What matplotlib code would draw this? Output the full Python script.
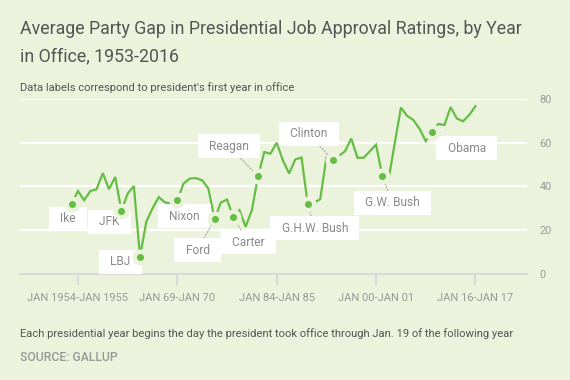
import matplotlib
matplotlib.use("Agg")
import matplotlib.pyplot as plt

# party gap by presidential year, 1953 (Ike yr 1) .. 2016 (Obama yr 8)
gap = [32.0, 37.8, 33.6, 37.8, 38.6, 46.0, 38.6, 44.2,   # Eisenhower
       28.7, 36.6, 40.1,                                 # Kennedy
       7.7, 23.7, 29.8, 35.0, 32.6, 32.0,                # Johnson
       33.6, 41.2, 43.5, 43.7, 42.7, 38.9,               # Nixon
       24.9, 32.5, 33.9,                                 # Ford
       25.9, 29.0, 21.4, 29.0,                           # Carter
       44.5, 55.6, 54.9, 59.9, 51.8, 45.8, 52.3, 53.1,   # Reagan
       31.7, 32.5, 34.0, 53.0,                           # Bush
       52.0, 53.8, 56.0, 61.8, 53.0, 53.0, 56.0, 59.0,   # Clinton
       44.7, 43.0, 59.5, 76.0, 72.2, 70.3, 66.3, 60.6,   # Bush
       64.7, 68.5, 68.0, 76.2, 71.0, 69.7, 72.6, 76.6]   # Obama

presidents = ["Ike", "JFK", "LBJ", "Nixon", "Ford", "Carter", "Reagan",
              "G.H.W. Bush", "Clinton", "G.W. Bush", "Obama"]
first_year = [0, 8, 11, 17, 23, 26, 30, 38, 42, 50, 58]

tick_pos = [1, 17, 33, 49, 65]
tick_labels = ["JAN 1954-JAN 1955", "JAN 69-JAN 70", "JAN 84-JAN 85",
               "JAN 00-JAN 01", "JAN 16-JAN 17"]

# label offsets from the dot in pixels (dx right, dy up), and whether a leader line is drawn
label_off = {"Ike": (-4, -15, False), "JFK": (-12, -11, False),
             "LBJ": (-20, -5, False), "Nixon": (7, -16, False),
             "Ford": (-17, -31, True), "Carter": (15, -25, True),
             "Reagan": (-29, 30, True), "G.H.W. Bush": (7, -24, True),
             "Clinton": (-24, 26, True), "G.W. Bush": (10, -27, True),
             "Obama": (35, -16, True)}

BG = "#ebf3dd"
GREEN = "#66bd45"
plt.rcParams["font.family"] = ["Roboto", "DejaVu Sans"]

fig = plt.figure(figsize=(5.7, 3.8), dpi=100, facecolor=BG)
W, H = 570, 380
ax = fig.add_axes([20 / W, 1 - 273.6 / H, 507 / W, (273.6 - 98.8) / H])
ax.set_facecolor(BG)

x = list(range(len(gap)))
ax.plot(x, gap, color=GREEN, lw=1.6, zorder=3, solid_joinstyle="miter")
dot_y = [gap[i] for i in first_year]
ax.plot(first_year, dot_y, ls="none", marker="o", ms=8.3, mfc=GREEN,
        mec=BG, mew=3.2, zorder=6)

for name, i in zip(presidents, first_year):
    dx, dy, leader = label_off[name]
    ap = None
    if leader:
        ap = dict(arrowstyle="-", color="#aaaaaa", lw=0.8, ls=(0, (1.5, 1.5)),
                  shrinkA=0, shrinkB=5)
    ax.annotate("  " + name + "  ", (i, gap[i]), xytext=(dx, dy),
                textcoords="offset pixels", ha="center", va="center",
                fontsize=8.6, color="#8a8a8a", zorder=5,
                bbox=dict(boxstyle="square,pad=0.45", fc="white", ec="none"),
                arrowprops=ap)

ax.set_xlim(-8.33, 73.3)
ax.set_ylim(0, 80)
ax.set_yticks([0, 20, 40, 60, 80])
ax.yaxis.tick_right()
ax.tick_params(axis="y", length=0, pad=9, labelsize=7.8, labelcolor="#999999")
ax.set_xticks(tick_pos)
ax.set_xticklabels(tick_labels)
ax.tick_params(axis="x", length=8, width=1.5, color="#dadada", pad=6,
               labelsize=8.0, labelcolor="#999999")
ax.grid(axis="y", color="white", lw=1.6)
ax.set_axisbelow(True)
for s in ["top", "left", "right"]:
    ax.spines[s].set_visible(False)
ax.spines["bottom"].set_color("#dadada")
ax.spines["bottom"].set_linewidth(1.6)
ax.spines["bottom"].set_zorder(2)

fig.text(20 / W, 1 - 29 / H, "Average Party Gap in Presidential Job Approval Ratings, by Year",
         fontsize=12.8, color="#555555", va="center")
fig.text(20 / W, 1 - 56 / H, "in Office, 1953-2016", fontsize=12.8, color="#555555", va="center")
fig.text(20 / W, 1 - 88 / H, "Data labels correspond to president's first year in office",
         fontsize=8.1, color="#555555", va="center")
fig.text(20 / W, 1 - 333.6 / H,
         "Each presidential year begins the day the president took office through Jan. 19 of the following year",
         fontsize=8.1, color="#555555", va="center")
fig.text(20 / W, 1 - 357.3 / H, "SOURCE: GALLUP", fontsize=8.8, color="#999999",
         va="center", fontweight="medium")

fig.savefig("out.png", dpi=100, facecolor=BG)
